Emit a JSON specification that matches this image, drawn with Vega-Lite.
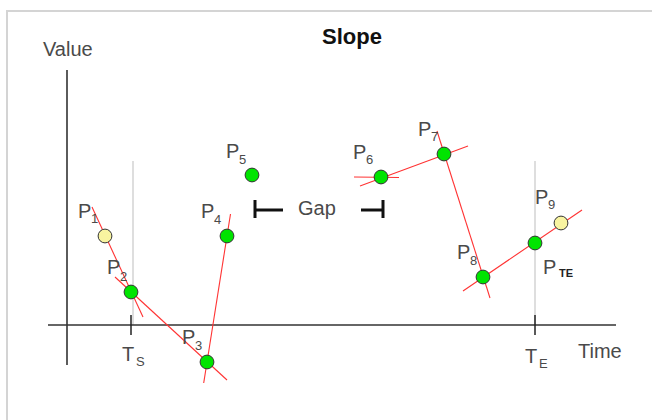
{
  "$schema": "https://vega.github.io/schema/vega-lite/v6.json",
  "width": 650,
  "height": 420,
  "autosize": "none",
  "padding": {"left": 7, "top": 11, "right": 0, "bottom": 0},
  "background": "white",
  "config": {
    "view": {"stroke": "#d4d4d4", "strokeWidth": 2},
    "font": "Liberation Sans"
  },
  "datasets": {
    "axisLines": [
      {"name": "value axis", "t": 0, "v": 25.5, "t2": 0, "v2": -4.0},
      {"name": "time axis", "t": -1.9, "v": 0, "t2": 54.9, "v2": 0}
    ],
    "guides": [
      {"name": "Ts", "t": 6.6, "v": 16.4, "t2": 6.6, "v2": 0},
      {"name": "TE", "t": 46.8, "v": 16.4, "t2": 46.8, "v2": 0}
    ],
    "ticks": [
      {"name": "Ts", "t": 6.4, "v": 1.0, "t2": 6.4, "v2": -1.0},
      {"name": "TE", "t": 46.8, "v": 1.0, "t2": 46.8, "v2": -1.0}
    ],
    "tangents": [
      {"at": "P1-P2", "t": 2.5, "v": 11.8, "t2": 7.6, "v2": 0.8},
      {"at": "P2-P3", "t": 4.8, "v": 4.8, "t2": 16.0, "v2": -5.5},
      {"at": "P3-P4", "t": 13.67, "v": -5.8, "t2": 16.35, "v2": 11.1},
      {"at": "P6", "t": 28.7, "v": 14.8, "t2": 33.2, "v2": 14.75},
      {"at": "P6-P7", "t": 29.3, "v": 13.9, "t2": 40.1, "v2": 17.9},
      {"at": "P7-P8", "t": 37.0, "v": 19.4, "t2": 42.3, "v2": 2.7},
      {"at": "P8-P9", "t": 39.6, "v": 3.4, "t2": 51.5, "v2": 11.5}
    ],
    "brackets": [
      {"part": "left stem", "t": 18.8, "v": 12.5, "t2": 18.8, "v2": 10.7},
      {"part": "left arm", "t": 18.8, "v": 11.5, "t2": 21.6, "v2": 11.5},
      {"part": "right arm", "t": 29.4, "v": 11.5, "t2": 31.6, "v2": 11.5},
      {"part": "right stem", "t": 31.6, "v": 12.5, "t2": 31.6, "v2": 10.7}
    ],
    "points": [
      {"id": "P1", "t": 3.8, "v": 8.9, "status": "outside"},
      {"id": "P2", "t": 6.4, "v": 3.3, "status": "used"},
      {"id": "P3", "t": 14.0, "v": -3.7, "status": "used"},
      {"id": "P4", "t": 16.0, "v": 8.9, "status": "used"},
      {"id": "P5", "t": 18.5, "v": 15.0, "status": "used"},
      {"id": "P6", "t": 31.4, "v": 14.8, "status": "used"},
      {"id": "P7", "t": 37.7, "v": 17.1, "status": "used"},
      {"id": "P8", "t": 41.6, "v": 4.8, "status": "used"},
      {"id": "PTE", "t": 46.8, "v": 8.2, "status": "used"},
      {"id": "P9", "t": 49.4, "v": 10.2, "status": "outside"}
    ],
    "labels": [
      {"text": "P", "t": 1.1, "v": 11.3, "kind": "main"},
      {"text": "1", "t": 2.4, "v": 10.6, "kind": "sub"},
      {"text": "P", "t": 4.0, "v": 5.7, "kind": "main"},
      {"text": "2", "t": 5.3, "v": 4.8, "kind": "sub"},
      {"text": "P", "t": 11.5, "v": -1.3, "kind": "main"},
      {"text": "3", "t": 12.8, "v": -2.1, "kind": "sub"},
      {"text": "P", "t": 13.4, "v": 11.3, "kind": "main"},
      {"text": "4", "t": 14.7, "v": 10.5, "kind": "sub"},
      {"text": "P", "t": 15.9, "v": 17.3, "kind": "main"},
      {"text": "5", "t": 17.2, "v": 16.5, "kind": "sub"},
      {"text": "P", "t": 28.6, "v": 17.2, "kind": "main"},
      {"text": "6", "t": 29.9, "v": 16.5, "kind": "sub"},
      {"text": "P", "t": 35.1, "v": 19.5, "kind": "main"},
      {"text": "7", "t": 36.4, "v": 18.8, "kind": "sub"},
      {"text": "P", "t": 39.0, "v": 7.2, "kind": "main"},
      {"text": "8", "t": 40.3, "v": 6.4, "kind": "sub"},
      {"text": "P", "t": 46.8, "v": 12.7, "kind": "main"},
      {"text": "9", "t": 48.1, "v": 12.0, "kind": "sub"},
      {"text": "P", "t": 47.6, "v": 5.7, "kind": "main"},
      {"text": "TE", "t": 49.2, "v": 5.1, "kind": "subBold"},
      {"text": "T", "t": 5.5, "v": -3.0, "kind": "main"},
      {"text": "S", "t": 6.9, "v": -3.7, "kind": "sub"},
      {"text": "T", "t": 45.8, "v": -3.2, "kind": "main"},
      {"text": "E", "t": 47.2, "v": -3.9, "kind": "sub"},
      {"text": "Time", "t": 51.1, "v": -2.7, "kind": "main"},
      {"text": "Value", "t": -2.4, "v": 27.5, "kind": "main"},
      {"text": "Gap", "t": 23.1, "v": 11.6, "kind": "main"}
    ]
  },
  "encoding": {
    "x": {"field": "t", "type": "quantitative", "scale": {"domain": [-6, 59], "zero": false, "nice": false}, "axis": null},
    "y": {"field": "v", "type": "quantitative", "scale": {"domain": [-10.6, 31.4], "zero": false, "nice": false}, "axis": null}
  },
  "layer": [
    {
      "data": {"name": "guides"},
      "mark": {"type": "rule", "color": "#c8c8c8", "strokeWidth": 1.2},
      "encoding": {"x2": {"field": "t2"}, "y2": {"field": "v2"}}
    },
    {
      "data": {"name": "axisLines"},
      "mark": {"type": "rule", "color": "#333333", "strokeWidth": 1.6},
      "encoding": {"x2": {"field": "t2"}, "y2": {"field": "v2"}}
    },
    {
      "data": {"name": "ticks"},
      "mark": {"type": "rule", "color": "#222222", "strokeWidth": 1.5},
      "encoding": {"x2": {"field": "t2"}, "y2": {"field": "v2"}}
    },
    {
      "data": {"name": "tangents"},
      "mark": {"type": "rule", "color": "#ff3333", "strokeWidth": 1.1},
      "encoding": {"x2": {"field": "t2"}, "y2": {"field": "v2"}}
    },
    {
      "data": {"name": "brackets"},
      "mark": {"type": "rule", "color": "#111111", "strokeWidth": 3},
      "encoding": {"x2": {"field": "t2"}, "y2": {"field": "v2"}}
    },
    {
      "data": {"name": "points"},
      "mark": {"type": "point", "shape": "circle", "filled": true, "size": 190, "stroke": "#333333", "strokeWidth": 1, "opacity": 1},
      "encoding": {
        "fill": {
          "field": "status",
          "type": "nominal",
          "scale": {"domain": ["used", "outside"], "range": ["#00e400", "#f8f4a0"]},
          "legend": null
        }
      }
    },
    {
      "data": {"name": "labels"},
      "transform": [{"filter": "datum.kind === 'main'"}],
      "mark": {"type": "text", "align": "left", "baseline": "middle", "fontSize": 20, "color": "#4a4a4a"},
      "encoding": {"text": {"field": "text"}}
    },
    {
      "data": {"name": "labels"},
      "transform": [{"filter": "datum.kind === 'sub'"}],
      "mark": {"type": "text", "align": "left", "baseline": "middle", "fontSize": 13, "color": "#4a4a4a"},
      "encoding": {"text": {"field": "text"}}
    },
    {
      "data": {"name": "labels"},
      "transform": [{"filter": "datum.kind === 'subBold'"}],
      "mark": {"type": "text", "align": "left", "baseline": "middle", "fontSize": 11, "fontWeight": "bold", "color": "#222222"},
      "encoding": {"text": {"field": "text"}}
    },
    {
      "data": {"values": [{"text": "Slope", "t": 28.5, "v": 28.8}]},
      "mark": {"type": "text", "align": "center", "baseline": "middle", "fontSize": 22, "fontWeight": "bold", "color": "#111111"},
      "encoding": {"text": {"field": "text"}}
    }
  ]
}
